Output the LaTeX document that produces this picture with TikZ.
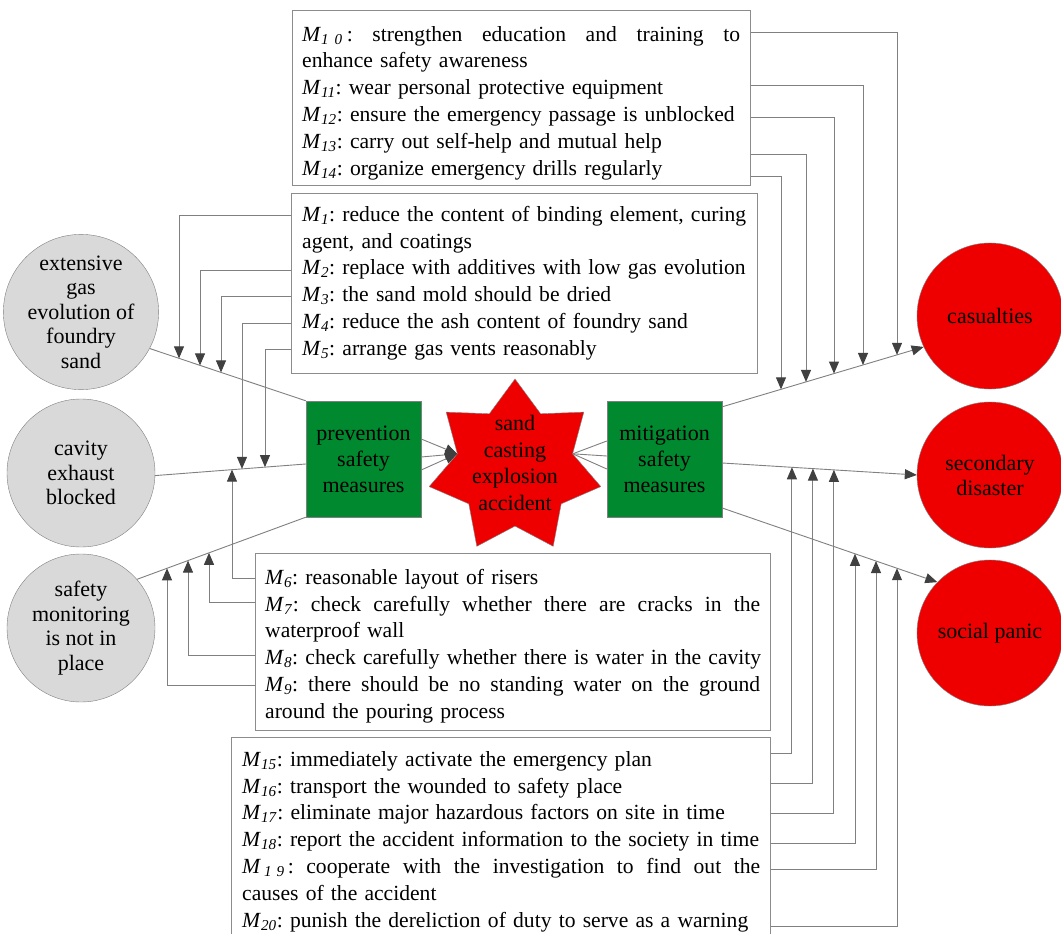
\documentclass[tikz,border=0pt]{standalone}
\usepackage{fontspec}
\setmainfont{Liberation Serif}
\usetikzlibrary{shapes.geometric,arrows.meta}
\frenchspacing
\newcommand{\Mi}[1]{\textit{M}\textsubscript{\textit{#1}}}
\newcommand{\jline}[2]{\leavevmode\hbox to #1{#2}}
\definecolor{lgray}{HTML}{808080}
\definecolor{tipgray}{HTML}{404040}
\definecolor{boxgray}{HTML}{8C8C8C}
\definecolor{cgreen}{HTML}{00892F}
\definecolor{cred}{HTML}{EE0000}
\definecolor{cgray}{HTML}{D9D9D9}
\begin{document}
\frenchspacing
\begin{tikzpicture}[x=1pt,y=-1pt,
  conn/.style={draw=lgray, line width=0.9pt},
  arr/.style={conn, -{Triangle[length=12pt,width=10pt,color=tipgray]}},
  mbox/.style={draw=boxgray, line width=0.9pt, fill=white, inner sep=0pt, anchor=north west},
  mtext/.style={inner sep=0pt, anchor=north west, align=left, font=\fontsize{21.6}{26.8}\selectfont\frenchspacing},
  gcirc/.style={circle, draw=lgray, fill=cgray, minimum size=148pt, inner sep=0pt, align=center, font=\fontsize{22}{24.5}\selectfont},
  rcirc/.style={circle, draw=lgray, fill=cred, minimum size=146pt, inner sep=0pt, align=center, font=\fontsize{22}{25}\selectfont},
  gbox/.style={draw=lgray, fill=cgreen, minimum width=115pt, minimum height=116pt, inner sep=0pt, align=center, font=\fontsize{22}{26}\selectfont},
]
\useasboundingbox (0,0) rectangle (1061,934);
\clip (0,0) rectangle (1061,934);
\fill[white] (0,0) rectangle (1061,934);

% text boxes
\node[mbox, minimum width=458pt, minimum height=175pt] (b1) at (292,10) {};
\node[mtext, text width=438pt] (t1) at (302,25) {\rule{0pt}{16pt}\jline{438pt}{\Mi{1\hspace{6pt}0}\hspace{4pt}: \hfill strengthen \hfill education \hfill and \hfill training \hfill to}\\
\mbox{enhance safety awareness}\\
\mbox{\Mi{11}: wear personal protective equipment}\\
\mbox{\Mi{12}: ensure the emergency passage is unblocked}\\
\mbox{\Mi{13}: carry out self-help and mutual help}\\
\mbox{\Mi{14}: organize emergency drills regularly}};

\node[mbox, minimum width=466pt, minimum height=180pt] (b2) at (291,193) {};
\node[mtext, text width=443pt] (t2) at (302,205) {\rule{0pt}{16pt}\jline{443pt}{\Mi{1}: \hfill reduce \hfill the \hfill content \hfill of \hfill binding \hfill element, \hfill curing}\\
\mbox{agent, and coatings}\\
\mbox{\Mi{2}: replace with additives with low gas evolution}\\
\mbox{\Mi{3}: the sand mold should be dried}\\
\mbox{\Mi{4}: reduce the ash content of foundry sand}\\
\mbox{\Mi{5}: arrange gas vents reasonably}};

\node[mbox, minimum width=515pt, minimum height=177pt] (b3) at (255,553) {};
\node[mtext, text width=495pt] (t3) at (265,568) {\rule{0pt}{16pt}\mbox{\Mi{6}: reasonable layout of risers}\\
\jline{495pt}{\Mi{7}: \hfill check \hfill carefully \hfill whether \hfill there \hfill are \hfill cracks \hfill in \hfill the}\\
\mbox{waterproof wall}\\
\mbox{\Mi{8}: check carefully whether there is water in the cavity}\\
\jline{495pt}{\Mi{9}: \hfill there \hfill should \hfill be \hfill no \hfill standing \hfill water \hfill on \hfill the \hfill ground}\\
\mbox{around the pouring process}};

\node[mbox, minimum width=539pt, minimum height=215pt] (b4) at (231,737) {};
\node[mtext, text width=518pt] (t4) at (242,750) {\rule{0pt}{16pt}\mbox{\Mi{15}: immediately activate the emergency plan}\\
\mbox{\Mi{16}: transport the wounded to safety place}\\
\mbox{\Mi{17}: eliminate major hazardous factors on site in time}\\
\mbox{\Mi{18}: report the accident information to the society in time}\\
\jline{518pt}{\textit{M}\hspace{3pt}\textsubscript{\textit{1\hspace{5pt}9}}\hspace{3pt}: \hfill cooperate \hfill with \hfill the \hfill investigation \hfill to \hfill find \hfill out \hfill the}\\
\mbox{causes of the accident}\\
\mbox{\Mi{20}: punish the dereliction of duty to serve as a warning}};

% left circles
\node[gcirc] (g1) at (81,312) {extensive\\gas\\evolution of\\foundry\\sand};
\node[gcirc] (g2) at (81,473) {cavity\\exhaust\\blocked};
\node[gcirc] (g3) at (81,628) {safety\\monitoring\\is not in\\place};

% green boxes
\node[gbox] (prev) at (363.5,459) {prevention\\safety\\measures};
\node[gbox] (mitig) at (664.5,459) {mitigation\\safety\\measures};

% star
\node[star, star points=7, star point ratio=1.49, minimum size=176pt, inner sep=0pt, draw=lgray, fill=cred] (acc) at (515,467) {};
\node[inner sep=0pt, align=center, font=\fontsize{22}{26.7}\selectfont] (acctext) at (515,463) {sand\\casting\\explosion\\accident};

% right circles
\node[rcirc] (cas) at (990,316) {casualties};
\node[rcirc] (sec) at (990,475) {secondary\\disaster};
\node[rcirc] (soc) at (990,633) {social panic};

% main lines
\coordinate (L1a) at (g1.-28);
\coordinate (L1b) at (prev.north west);
\coordinate (L2a) at (g2.-2);
\coordinate (L2b) at (prev.west |- 0,464);
\coordinate (L3a) at (g3.41);
\coordinate (L3b) at (prev.south west);
\coordinate (R1a) at ([yshift=-6pt]mitig.north east);
\coordinate (R1b) at (cas.205);
\coordinate (R2a) at (mitig.east |- 0,463);
\coordinate (R2b) at (sec.180);
\coordinate (R3a) at (mitig.east |- 0,508);
\coordinate (R3b) at (soc.136);

\draw[conn] (L1a) -- (L1b);
\draw[conn] (L2a) -- (L2b);
\draw[conn] (L3a) -- (L3b);
\draw[arr] (R1a) -- (R1b);
\draw[arr] (R2a) -- (R2b);
\draw[arr] (R3a) -- (R3b);

\draw[arr] (prev.east |- 0,439) -- (acc.inner point 2);
\draw[arr] (prev.east |- 0,457) -- (acc.inner point 2);
\draw[arr] (prev.east |- 0,470) -- (acc.inner point 2);
\draw[conn] (acc.inner point 6) -- (mitig.west |- 0,441);
\draw[conn] (acc.inner point 6) -- (mitig.west |- 0,456);
\draw[conn] (acc.inner point 6) -- (mitig.west |- 0,469);

% measure connectors, prevention side
\draw[arr] (b2.west |- 0,215) -| (intersection of L1a--L1b and 179,0--179,10);
\draw[arr] (b2.west |- 0,270) -| (intersection of L1a--L1b and 200,0--200,10);
\draw[arr] (b2.west |- 0,296) -| (intersection of L1a--L1b and 221,0--221,10);
\draw[arr] (b2.west |- 0,323) -| (intersection of L2a--L2b and 242,0--242,10);
\draw[arr] (b2.west |- 0,349) -| (intersection of L2a--L2b and 265,0--265,10);
\draw[arr] (b3.west |- 0,578) -| (intersection of L2a--L2b and 232,0--232,10);
\draw[arr] (b3.west |- 0,602) -| (intersection of L3a--L3b and 209,0--209,10);
\draw[arr] (b3.west |- 0,655) -| (intersection of L3a--L3b and 188,0--188,10);
\draw[arr] (b3.west |- 0,685) -| (intersection of L3a--L3b and 167,0--167,10);

% measure connectors, mitigation side
\draw[arr] (b1.east |- 0,32) -| (intersection of R1a--R1b and 897,0--897,10);
\draw[arr] (b1.east |- 0,85) -| (intersection of R1a--R1b and 863,0--863,10);
\draw[arr] (b1.east |- 0,117) -| (intersection of R1a--R1b and 834,0--834,10);
\draw[arr] (b1.east |- 0,154) -| (intersection of R1a--R1b and 806,0--806,10);
\draw[arr] (b1.east |- 0,176) -| (intersection of R1a--R1b and 781,0--781,10);
\draw[arr] (b4.east |- 0,753) -| (intersection of R2a--R2b and 792,0--792,10);
\draw[arr] (b4.east |- 0,783) -| (intersection of R2a--R2b and 813,0--813,10);
\draw[arr] (b4.east |- 0,813) -| (intersection of R2a--R2b and 834,0--834,10);
\draw[arr] (b4.east |- 0,843) -| (intersection of R3a--R3b and 855,0--855,10);
\draw[arr] (b4.east |- 0,869) -| (intersection of R3a--R3b and 876,0--876,10);
\draw[arr] (b4.east |- 0,926) -| (intersection of R3a--R3b and 897,0--897,10);
\end{tikzpicture}
\end{document}
